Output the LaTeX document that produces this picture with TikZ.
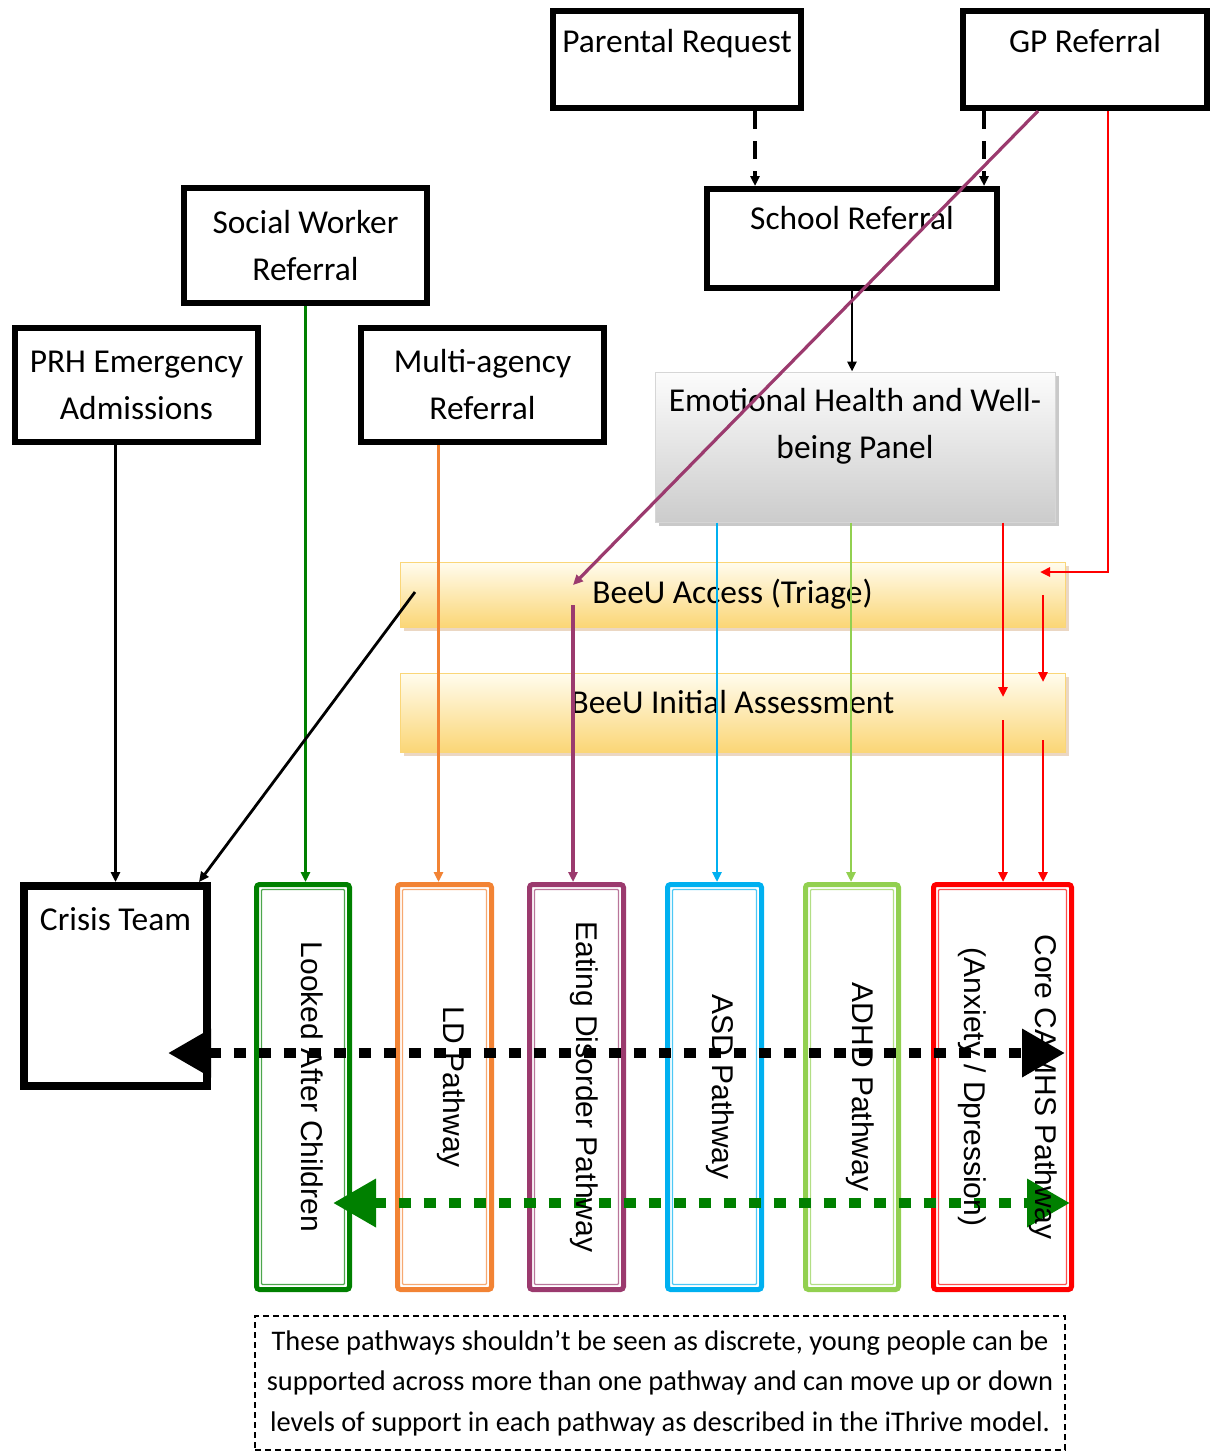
\documentclass[tikz,border=0pt]{standalone}
\usepackage{fontspec}
\setmainfont{Carlito}
\newfontfamily\pathfont{Liberation Sans}
\usetikzlibrary{arrows.meta,shadows}

\definecolor{lacgreen}{RGB}{0,128,0}
\definecolor{ldorange}{RGB}{242,131,52}
\definecolor{edpurple}{RGB}{155,58,110}
\definecolor{asdblue}{RGB}{0,176,240}
\definecolor{adhdgreen}{RGB}{146,208,80}
\definecolor{corered}{RGB}{255,0,0}
\definecolor{beeutop}{RGB}{255,252,238}
\definecolor{beeubot}{RGB}{251,214,118}
\definecolor{beeuline}{RGB}{250,214,120}
\definecolor{paneltop}{RGB}{252,252,252}
\definecolor{panelbot}{RGB}{204,204,204}

\tikzset{
  refbox/.style={draw, line width=6pt, inner xsep=0pt, inner ysep=0pt, align=center,
    font=\fontsize{33.4}{47}\selectfont},
  stripbox/.style={draw=beeuline, line width=1pt, top color=beeutop, bottom color=beeubot,
    minimum width=665pt, inner sep=0pt, font=\fontsize{33.4}{40}\selectfont,
    drop shadow={shadow xshift=4pt, shadow yshift=-4pt, fill=brown!45, opacity=0.7}},
  pathbox/.style={draw=#1, line width=5pt, rounded corners=3pt, minimum height=405pt, inner sep=0pt},
  pathlabel/.style={rotate=-90, font=\pathfont\fontsize{30}{71}\selectfont, align=center},
  conn/.style={line width=2.8pt, -{Triangle[length=10pt,width=9pt]}},
  dashconn/.style={conn, line width=4pt, dash pattern=on 18pt off 12pt},
  bigdots/.style={line width=10pt, dash pattern=on 12pt off 13pt,
    {Triangle[length=43pt,width=46pt]}-{Triangle[length=43pt,width=46pt]}}
}

\begin{document}
\begin{tikzpicture}[x=1pt,y=-1pt]
  \useasboundingbox (0,0) rectangle (1210,1452);

  % Referral boxes at the top
  \node[refbox, minimum width=248pt, text height=41pt, text depth=56pt] (pr) at (677,59.5) {Parental Request};
  \node[refbox, minimum width=244pt, text height=41pt, text depth=56pt] (gp) at (1085,59.5) {GP Referral};
  \node[refbox, minimum width=290pt, text height=40pt, text depth=59pt] (sch) at (852,238.5) {School Referral};
  \node[refbox, minimum width=243pt, minimum height=115pt] (sw) at (305.5,245.5) {Social Worker\\Referral};
  \node[refbox, minimum width=243pt, minimum height=114pt] (prh) at (136.5,385) {PRH Emergency\\Admissions};
  \node[refbox, minimum width=243pt, minimum height=114pt] (ma) at (482.5,385) {Multi-agency\\Referral};

  % Panel and BeeU strips
  \node[draw=panelbot!80, line width=1pt, top color=paneltop, bottom color=panelbot,
    minimum width=400pt, minimum height=150pt, align=center, font=\fontsize{33.4}{47}\selectfont,
    drop shadow={shadow xshift=4pt, shadow yshift=-4pt, fill=gray!60, opacity=0.7}]
    (ehwb) at (855,447) {Emotional Health and Well-\\being Panel\\\mbox{}};
  \node[stripbox, minimum height=65pt] (acc) at (732.5,594.5) {BeeU Access (Triage)};
  \node[stripbox, minimum height=79pt, text height=22pt, text depth=20pt] (ini) at (732.5,712.5) {BeeU Initial Assessment};

  % Crisis team
  \node[draw, line width=6pt, minimum width=185pt, inner sep=0pt, text height=45.5pt, text depth=156.5pt,
    font=\fontsize{33.4}{40}\selectfont] (ct) at (115.5,986) {Crisis Team};
  \draw[line width=1.2pt] ([shift={(7pt,-7pt)}]ct.north west) rectangle ([shift={(-7pt,7pt)}]ct.south east);

  % Pathway boxes
  \node[pathbox=lacgreen, minimum width=93pt] (lac) at (303,1087) {};
  \node[pathbox=ldorange, minimum width=94pt] (ld) at (444.5,1087) {};
  \node[pathbox=edpurple, minimum width=94pt] (ed) at (576.5,1087) {};
  \node[pathbox=asdblue, minimum width=94pt] (asd) at (714.5,1087) {};
  \node[pathbox=adhdgreen, minimum width=93pt] (adhd) at (852,1087) {};
  \node[pathbox=corered, minimum width=138pt] (core) at (1002.5,1087) {};
  \foreach \pw/\col in {lac/lacgreen, ld/ldorange, ed/edpurple, asd/asdblue, adhd/adhdgreen, core/corered}
    \draw[\col!70, line width=1.2pt, rounded corners=1pt]
      ([shift={(7.5pt,-7.5pt)}]\pw.north west) rectangle ([shift={(-7.5pt,7.5pt)}]\pw.south east);

  % Free ends on the strips and boxes
  \coordinate (accPurpleIn) at (573,585);
  \coordinate (accPurpleOut) at (573,605);
  \coordinate (accRedIn) at (1040,572);
  \coordinate (accRedOut) at (1043,595);
  \coordinate (iniRedIn) at (1043,682);
  \coordinate (iniRedOut) at (1043,740);
  \coordinate (iniPanelIn) at (1003,697);
  \coordinate (iniPanelOut) at (1003,720);
  \coordinate (accBlackOut) at (415,592);
  \coordinate (ctDot) at (168,1053);
  \coordinate (coreDot) at (1065,1053);
  \coordinate (lacDot) at (333,1203);
  \coordinate (coreDotB) at (1070,1203);

  % Dashed referrals into school
  \draw[dashconn] ([xshift=78pt]pr.south) -- ([xshift=78pt]pr.south |- sch.north);
  \draw[dashconn] ([xshift=-101pt]gp.south) -- ([xshift=-101pt]gp.south |- sch.north);

  % School to panel
  \draw[conn] (sch.south) -- (sch.south |- ehwb.north);

  % Panel to pathways
  \draw[conn, asdblue] ([xshift=-138pt]ehwb.south) -- ([xshift=-138pt]ehwb.south |- asd.north);
  \draw[conn, adhdgreen] ([xshift=-4pt]ehwb.south) -- ([xshift=-4pt]ehwb.south |- adhd.north);
  \draw[conn, corered] ([xshift=148pt]ehwb.south) -- (iniPanelIn);
  \draw[conn, corered] (iniPanelOut) -- (iniPanelOut |- core.north);

  % GP red route
  \draw[conn, corered] ([xshift=23pt]gp.south) |- (accRedIn);
  \draw[conn, corered] (accRedOut) -- (iniRedIn);
  \draw[conn, corered] (iniRedOut) -- (iniRedOut |- core.north);

  % Social worker, multi-agency and PRH
  \draw[conn, lacgreen] (sw.south) -- (sw.south |- lac.north);
  \draw[conn, ldorange] ([xshift=-44pt]ma.south) -- ([xshift=-44pt]ma.south |- ld.north);
  \draw[conn] (prh.south -| ct.north) -- (ct.north);
  \draw[conn] (accBlackOut) -- ([xshift=-12pt]ct.north east);

  % GP purple route
  \draw[conn, edpurple, line width=3.2pt] ([xshift=-47pt]gp.south) -- (accPurpleIn);
  \draw[conn, edpurple, line width=3.2pt] (accPurpleOut) -- (accPurpleOut |- ed.north);

  % Moving between pathways
  \draw[bigdots] (ctDot) -- (coreDot);
  \draw[bigdots, lacgreen] (lacDot) -- (coreDotB);

  % Pathway labels
  \node[pathlabel] (lactext) at ([xshift=9pt]lac.center) {Looked After Children};
  \node[pathlabel] (ldtext) at ([xshift=7pt]ld.center) {LD Pathway};
  \node[pathlabel] (edtext) at ([xshift=8pt]ed.center) {Eating Disorder Pathway};
  \node[pathlabel] (asdtext) at ([xshift=6pt]asd.center) {ASD Pathway};
  \node[pathlabel] (adhdtext) at ([xshift=8pt]adhd.center) {ADHD Pathway};
  \node[pathlabel] (coretext) at ([xshift=5pt]core.center) {Core CAMHS Pathway\\(Anxiety / Dpression)};

  % Note
  \node[draw, line width=1.5pt, dash pattern=on 6pt off 4pt, minimum width=810pt, minimum height=134pt,
    align=center, font=\fontsize{28.4}{40.5}\selectfont] (note) at (660,1383)
    {These pathways shouldn’t be seen as discrete, young people can be\\supported across more than one pathway and can move up or down\\levels of support in each pathway as described in the iThrive model.};
\end{tikzpicture}
\end{document}
